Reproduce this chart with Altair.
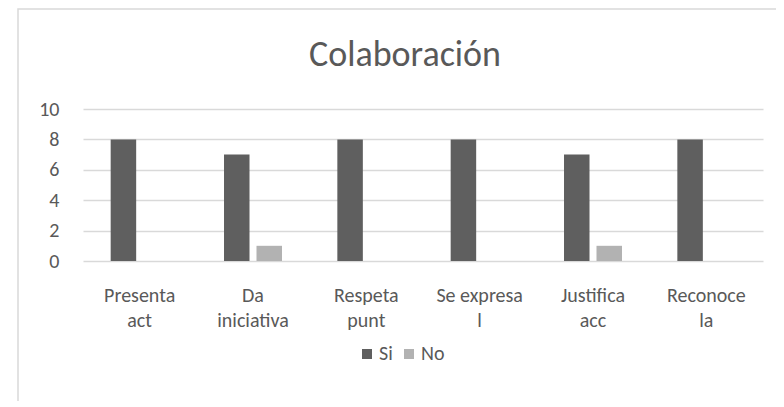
import altair as alt
import pandas as pd

title_text = "Colaboración"
categories = ["Presenta\nact", "Da\niniciativa", "Respeta\npunt", "Se expresa\nl", "Justifica\nacc", "Reconoce\nla"]
series = ["Si", "No"]
si_values = [8, 7, 8, 8, 7, 8]
no_values = [0, 1, 0, 0, 1, 0]
y_ticks = [0, 2, 4, 6, 8, 10]
colors = ["#5f5f5f", "#b2b2b2"]

rows = []
for c, s, n in zip(categories, si_values, no_values):
    rows.append({"cat": c, "serie": "Si", "valor": s})
    rows.append({"cat": c, "serie": "No", "valor": n})
df = pd.DataFrame(rows)

FONT = "Carlito, Lato, sans-serif"
TXT = "#595959"

bars = alt.Chart(df).mark_bar().encode(
    x=alt.X("cat:N", sort=categories, title=None,
            scale=alt.Scale(paddingInner=0, paddingOuter=0),
            axis=alt.Axis(labelAngle=0, labelExpr="split(datum.label, '\\n')",
                          labelFontSize=20, labelColor=TXT, labelFont=FONT,
                          labelLineHeight=25, labelPadding=24, labelBaseline="top",
                          ticks=False, domain=False, grid=False)),
    xOffset=alt.XOffset("serie:N", sort=series,
                        scale=alt.Scale(paddingInner=0.215, paddingOuter=0.852)),
    y=alt.Y("valor:Q", title=None,
            scale=alt.Scale(domain=[0, 10], nice=False),
            axis=alt.Axis(values=y_ticks, labelFontSize=20, labelColor=TXT, labelFont=FONT,
                          labelPadding=24, ticks=False, domain=False,
                          gridColor="#d9d9d9", gridWidth=1.3)),
    color=alt.Color("serie:N", sort=series,
                    scale=alt.Scale(domain=series, range=colors),
                    legend=alt.Legend(title=None, orient="none", direction="horizontal",
                                      legendX=274, legendY=235,
                                      symbolType="square", symbolSize=100,
                                      symbolStrokeWidth=0,
                                      labelFontSize=20, labelColor=TXT, labelFont=FONT,
                                      labelOffset=2, columnPadding=6)),
)

border = alt.Chart(pd.DataFrame({"a": [0]})).mark_rect(
    fill="transparent", stroke="#d9d9d9", strokeWidth=1.5
).encode(
    x=alt.value(-65), x2=alt.value(720), y=alt.value(-100), y2=alt.value(320)
)

title = alt.Chart(pd.DataFrame({"t": [title_text]})).mark_text(
    font=FONT, fontSize=36, color=TXT, align="center", baseline="alphabetic"
).encode(
    text="t:N", x=alt.value(322), y=alt.value(-43)
)

chart = alt.layer(border, bars, title).properties(
    width=680, height=152,
    autosize=alt.AutoSizeParams(type="none"),
    padding={"left": 75, "top": 101, "right": 13, "bottom": 140},
).configure_view(stroke=None)

chart.save("out.html", embed_options={"renderer": "svg", "actions": False})
